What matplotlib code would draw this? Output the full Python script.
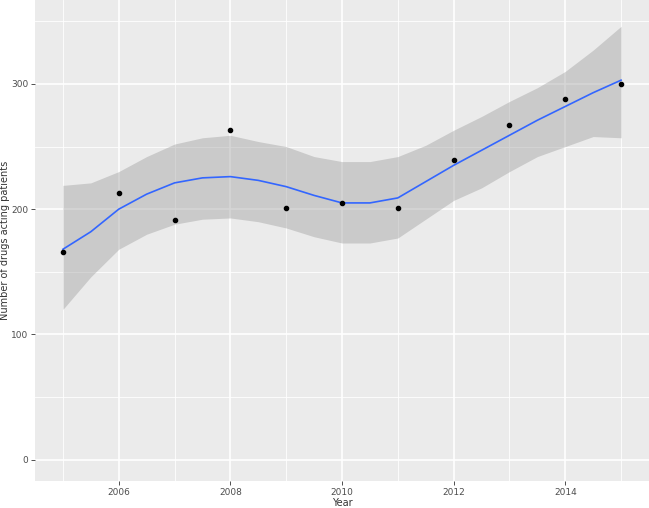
import matplotlib
matplotlib.use("Agg")
import matplotlib.pyplot as plt
import numpy as np

# observed counts per year
years = [2005, 2006, 2007, 2008, 2009, 2010, 2011, 2012, 2013, 2014, 2015]
drugs = [166, 213, 191, 263, 201, 205, 201, 239, 267, 288, 300]

# loess smooth + confidence band, every half year
smooth_x = [2005, 2005.5, 2006, 2006.5, 2007, 2007.5, 2008, 2008.5, 2009, 2009.5,
            2010, 2010.5, 2011, 2011.5, 2012, 2012.5, 2013, 2013.5, 2014, 2014.5, 2015]
smooth_y = [168, 182, 200, 212, 221, 225, 226, 223, 218, 211,
            205, 205, 209, 222, 235, 247, 259, 271, 282, 293, 303]
band_hi = [219, 221, 230, 242, 252, 257, 259, 254, 250, 242,
           238, 238, 242, 251, 263, 274, 286, 297, 310, 327, 346]
band_lo = [120, 146, 168, 180, 188, 192, 193, 190, 185, 178,
           173, 173, 177, 192, 207, 217, 230, 242, 250, 258, 257]

fig = plt.figure(figsize=(6.49, 5.08), dpi=100)
ax = fig.add_axes([35 / 649, 27 / 508, 1 - 35 / 649, 1 - 27 / 508])
ax.set_facecolor("#EBEBEB")

# gridlines like ggplot theme_gray
for v in [50, 150, 250, 350]:
    ax.axhline(v, color="white", lw=0.6, zorder=0)
for v in [0, 100, 200, 300]:
    ax.axhline(v, color="white", lw=1.2, zorder=0)
for v in [2005, 2007, 2009, 2011, 2013, 2015]:
    ax.axvline(v, color="white", lw=0.6, zorder=0)
for v in [2006, 2008, 2010, 2012, 2014]:
    ax.axvline(v, color="white", lw=1.2, zorder=0)

ax.fill_between(smooth_x, band_lo, band_hi, color="#999999", alpha=0.4, lw=0, zorder=1)
ax.plot(smooth_x, smooth_y, color="#3366FF", lw=1.2, zorder=2)
ax.scatter(years, drugs, s=9, color="black", zorder=3)

ax.set_xlim(2004.5, 2015.5)
ax.set_ylim(-17, 367)
ax.set_xticks([2006, 2008, 2010, 2012, 2014])
ax.set_yticks([0, 100, 200, 300])

for s in ax.spines.values():
    s.set_visible(False)
ax.tick_params(axis="both", length=3, width=0.6, color="#333333",
               labelsize=6.5, labelcolor="#4D4D4D", pad=2)

ax.set_xlabel("Year", fontsize=7, color="#333333")
ax.set_ylabel("Number of drugs acting patients", fontsize=7, color="#333333")
ax.xaxis.set_label_coords(0.5, -0.035)
ax.yaxis.set_label_coords(-0.041, 0.5)

fig.savefig("out.png", dpi=100)
